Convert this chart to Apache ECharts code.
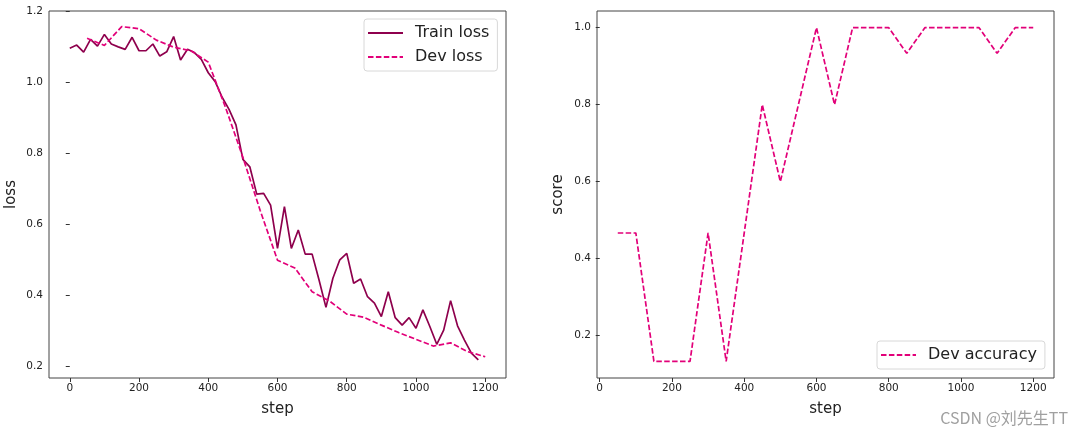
<!DOCTYPE html>
<html>
<head>
<meta charset="utf-8">
<script src="https://cdn.jsdelivr.net/npm/echarts@6/dist/echarts.min.js"></script>
<style>html,body{margin:0;padding:0;background:#fff;}#c{width:1084px;height:438px;}</style>
</head>
<body>
<div id="c"></div>
<script>
var trainSteps = [0,20,40,60,80,100,120,140,160,180,200,220,240,260,280,300,320,340,360,380,400,420,440,460,480,500,520,540,560,580,600,620,640,660,680,700,720,740,760,780,800,820,840,860,880,900,920,940,960,980,1000,1020,1040,1060,1080,1100,1120,1140,1160,1180];
var trainLoss = [1.097,1.106,1.086,1.122,1.103,1.136,1.109,1.101,1.094,1.128,1.090,1.090,1.109,1.075,1.087,1.130,1.064,1.094,1.085,1.066,1.028,1.003,0.959,0.925,0.881,0.784,0.763,0.686,0.688,0.655,0.533,0.651,0.533,0.585,0.517,0.517,0.444,0.367,0.449,0.501,0.519,0.435,0.447,0.397,0.379,0.341,0.411,0.338,0.317,0.338,0.308,0.360,0.313,0.263,0.303,0.386,0.315,0.275,0.238,0.219];
var devSteps = [50,100,150,200,250,300,350,400,450,500,550,600,650,700,750,800,850,900,950,1000,1050,1100,1150,1200];
var devLoss = [1.125,1.105,1.158,1.152,1.120,1.100,1.090,1.058,0.930,0.790,0.640,0.500,0.478,0.411,0.385,0.348,0.339,0.317,0.296,0.277,0.258,0.267,0.242,0.228];
var devAcc = [0.4667,0.4667,0.1333,0.1333,0.1333,0.4667,0.1333,0.4667,0.8,0.6,0.8,1.0,0.8,1.0,1.0,1.0,0.9333,1.0,1.0,1.0,1.0,0.9333,1.0,1.0];
var xTicks = [0,200,400,600,800,1000,1200];
var lossTicks = [0.2,0.4,0.6,0.8,1.0,1.2];
var scoreTicks = [0.2,0.4,0.6,0.8,1.0];

function pairs(xs, ys){ return xs.map(function(x,i){ return [x, ys[i]]; }); }

var FONT = 'DejaVu Sans';
var TXT = '#222';
var trainColor = '#8E004D', devColor = '#E20079';
var DASH = [5.5,2.4];

function xAx(idx, min, max){
  return {
    type:'value', gridIndex: idx, min:min, max:max,
    name:'step', nameLocation:'middle', nameGap:24,
    nameTextStyle:{fontFamily:FONT, fontSize:15, color:TXT},
    axisLine:{show:false}, splitLine:{show:false},
    axisTick:{show:true, length:4, inside:false, customValues:xTicks, lineStyle:{color:'#333'}},
    axisLabel:{fontFamily:FONT, fontSize:10.5, color:TXT, margin:5, customValues:xTicks,
      formatter:function(v){ return String(Math.round(v)); }}
  };
}
function yAx(idx, min, max, ticks, name, gap){
  return {
    type:'value', gridIndex: idx, min:min, max:max,
    name:name, nameLocation:'middle', nameGap:gap, nameRotate:90,
    nameTextStyle:{fontFamily:FONT, fontSize:15, color:TXT},
    axisLine:{show:false}, splitLine:{show:false},
    axisTick:{show:true, length:4, inside:false, customValues:ticks, lineStyle:{color:'#333'}},
    axisLabel:{fontFamily:FONT, fontSize:10.5, color:TXT, margin:6, customValues:ticks,
      formatter:function(v){ return v.toFixed(1); }}
  };
}
var legendCommon = {
  orient:'vertical', itemWidth:35, itemHeight:14, itemGap:8,
  borderColor:'#d8d8d8', borderWidth:1, borderRadius:3, backgroundColor:'rgba(255,255,255,0.8)',
  itemStyle:{color:'rgba(0,0,0,0)', borderWidth:0, opacity:0},
  textStyle:{fontFamily:FONT, fontSize:16, lineHeight:16, color:TXT, padding:[0,0,0,7]}
};

var chart = echarts.init(document.getElementById('c'), null, {renderer:'canvas'});
chart.setOption({
  animation:false,
  backgroundColor:'#fff',
  grid:[
    {left:49, top:11, width:457, height:367, show:true, borderColor:'#444', borderWidth:1, backgroundColor:'transparent'},
    {left:597, top:11, width:457, height:367, show:true, borderColor:'#444', borderWidth:1, backgroundColor:'transparent'}
  ],
  xAxis:[ xAx(0,-60,1260), xAx(1,-7.5,1257.5) ],
  yAxis:[ yAx(0,0.168,1.202,lossTicks,'loss',30), yAx(1,0.09,1.0433,scoreTicks,'score',31) ],
  legend:[
    Object.assign({}, legendCommon, {data:['Train loss','Dev loss'], left:364, top:19, padding:[6,8,6,3]}),
    Object.assign({}, legendCommon, {data:['Dev accuracy'], left:877, top:341, padding:[6,8,6,3]})
  ],
  series:[
    {name:'Train loss', type:'line', xAxisIndex:0, yAxisIndex:0, data:pairs(trainSteps,trainLoss),
     showSymbol:false, symbol:'none', color:trainColor, lineStyle:{color:trainColor, width:1.7}},
    {name:'Dev loss', type:'line', xAxisIndex:0, yAxisIndex:0, data:pairs(devSteps,devLoss),
     showSymbol:false, symbol:'none', color:devColor, lineStyle:{color:devColor, width:1.7, type:DASH}},
    {name:'Dev accuracy', type:'line', xAxisIndex:1, yAxisIndex:1, data:pairs(devSteps,devAcc),
     showSymbol:false, symbol:'none', color:devColor, lineStyle:{color:devColor, width:1.7, type:DASH}}
  ],
  graphic:[
    {type:'text', right:16, top:410, style:{text:'CSDN @刘先生TT', fill:'#a0a0a0',
      font:'16px "Noto Sans CJK SC", "DejaVu Sans", sans-serif'}}
  ]
});
</script>
</body>
</html>
